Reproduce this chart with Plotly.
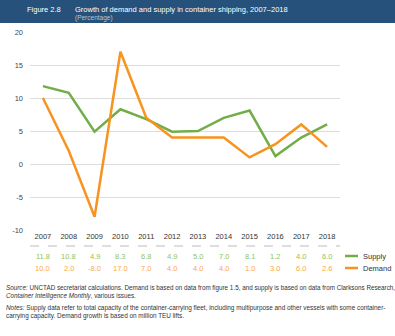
import plotly.graph_objects as go

years = ["2007", "2008", "2009", "2010", "2011", "2012", "2013", "2014", "2015", "2016", "2017", "2018"]
supply = [11.8, 10.8, 4.9, 8.3, 6.8, 4.9, 5.0, 7.0, 8.1, 1.2, 4.0, 6.0]
demand = [10.0, 2.0, -8.0, 17.0, 7.0, 4.0, 4.0, 4.0, 1.0, 3.0, 6.0, 2.6]
y_ticks = [-10, -5, 0, 5, 10, 15, 20]
series_names = ["Supply", "Demand"]

GREEN = "#72ad47"
ORANGE = "#f7931e"
FONT = "Liberation Sans, Arial, sans-serif"

fig = go.Figure()
fig.add_trace(go.Scatter(x=years, y=supply, mode="lines", name=series_names[0],
                         line=dict(color=GREEN, width=2.5), showlegend=False))
fig.add_trace(go.Scatter(x=years, y=demand, mode="lines", name=series_names[1],
                         line=dict(color=ORANGE, width=2.5), showlegend=False))

W, H = 395, 336
mt, mb, ml, mr = 32, 106, 30, 55
ph = H - mt - mb
pw = W - ml - mr

def py(pix):
    return (H - mb - pix) / ph

def px(pix):
    return (pix - ml) / pw

annotations = []
for i, yr in enumerate(years):
    annotations.append(dict(x=i, y=py(256), xref="x", yref="paper", text=f"{supply[i]:.1f}",
                            showarrow=False, font=dict(size=7.5, color="#8fc45a", family=FONT),
                            xanchor="center", yanchor="middle"))
    annotations.append(dict(x=i, y=py(268), xref="x", yref="paper", text=f"{demand[i]:.1f}",
                            showarrow=False, font=dict(size=7.5, color="#f9a84a", family=FONT),
                            xanchor="center", yanchor="middle"))

# legend (line samples + labels)
shapes = []
for name, color, ypix in [(series_names[0], GREEN, 256), (series_names[1], ORANGE, 268)]:
    shapes.append(dict(type="line", xref="paper", yref="paper", x0=px(345), x1=px(358),
                       y0=py(ypix), y1=py(ypix), line=dict(color=color, width=2.5)))
    annotations.append(dict(x=px(361), y=py(ypix), xref="paper", yref="paper", text=name,
                            showarrow=False, xanchor="left", yanchor="middle",
                            font=dict(size=7.5, color="#333333", family=FONT)))

# header
annotations.append(dict(x=px(25), y=py(9), xref="paper", yref="paper", text="Figure 2.8",
                        showarrow=False, xanchor="left", yanchor="middle",
                        font=dict(size=7.5, color="white", family=FONT)))
annotations.append(dict(x=px(73), y=py(9), xref="paper", yref="paper",
                        text="Growth of demand and supply in container shipping, 2007–2018",
                        showarrow=False, xanchor="left", yanchor="middle",
                        font=dict(size=7.5, color="white", family=FONT)))
annotations.append(dict(x=px(73), y=py(18), xref="paper", yref="paper", text="(Percentage)",
                        showarrow=False, xanchor="left", yanchor="middle",
                        font=dict(size=6.5, color="#b8c4d2", family=FONT)))

# source & notes
annotations.append(dict(x=px(4), y=py(282), xref="paper", yref="paper",
                        text="<i>Source:</i> UNCTAD secretariat calculations. Demand is based on data from figure 1.5, and supply is based on data from Clarksons Research,<br><i>Container Intelligence Monthly</i>, various issues.",
                        showarrow=False, xanchor="left", yanchor="top", align="left",
                        font=dict(size=6.3, color="#333333", family=FONT)))
annotations.append(dict(x=px(4), y=py(302), xref="paper", yref="paper",
                        text="<i>Notes:</i> Supply data refer to total capacity of the container-carrying fleet, including multipurpose and other vessels with some container-<br>carrying capacity. Demand growth is based on million TEU lifts.",
                        showarrow=False, xanchor="left", yanchor="top", align="left",
                        font=dict(size=6.4, color="#333333", family=FONT)))

shapes += [
    dict(type="rect", xref="paper", yref="paper", x0=px(0), x1=px(W),
         y0=py(23), y1=py(0), fillcolor="#26517a", line=dict(width=0), layer="below"),
    dict(type="line", xref="paper", yref="paper", x0=0, x1=1, y0=py(246), y1=py(246),
         line=dict(color="#bbbbbb", width=1, dash="dash")),
]

fig.update_layout(
    width=W, height=H,
    margin=dict(t=mt, b=mb, l=ml, r=mr),
    paper_bgcolor="white", plot_bgcolor="white",
    font=dict(family=FONT, size=7.5, color="#333333"),
    showlegend=False,
    annotations=annotations,
    shapes=shapes,
    xaxis=dict(type="category", range=[-0.5, 11.5], showgrid=False, showline=False,
               ticks="", tickfont=dict(size=7.5, color="#333333"), zeroline=False),
    yaxis=dict(range=[-10, 20], tickvals=y_ticks, ticktext=[str(v) for v in y_ticks],
               showgrid=True, gridcolor="#dddddd",
               gridwidth=1, zeroline=False, showline=False, ticks="",
               tickfont=dict(size=7.5, color="#3a4a5c"), ticklabelstandoff=6),
)

fig.write_html("out.html")
